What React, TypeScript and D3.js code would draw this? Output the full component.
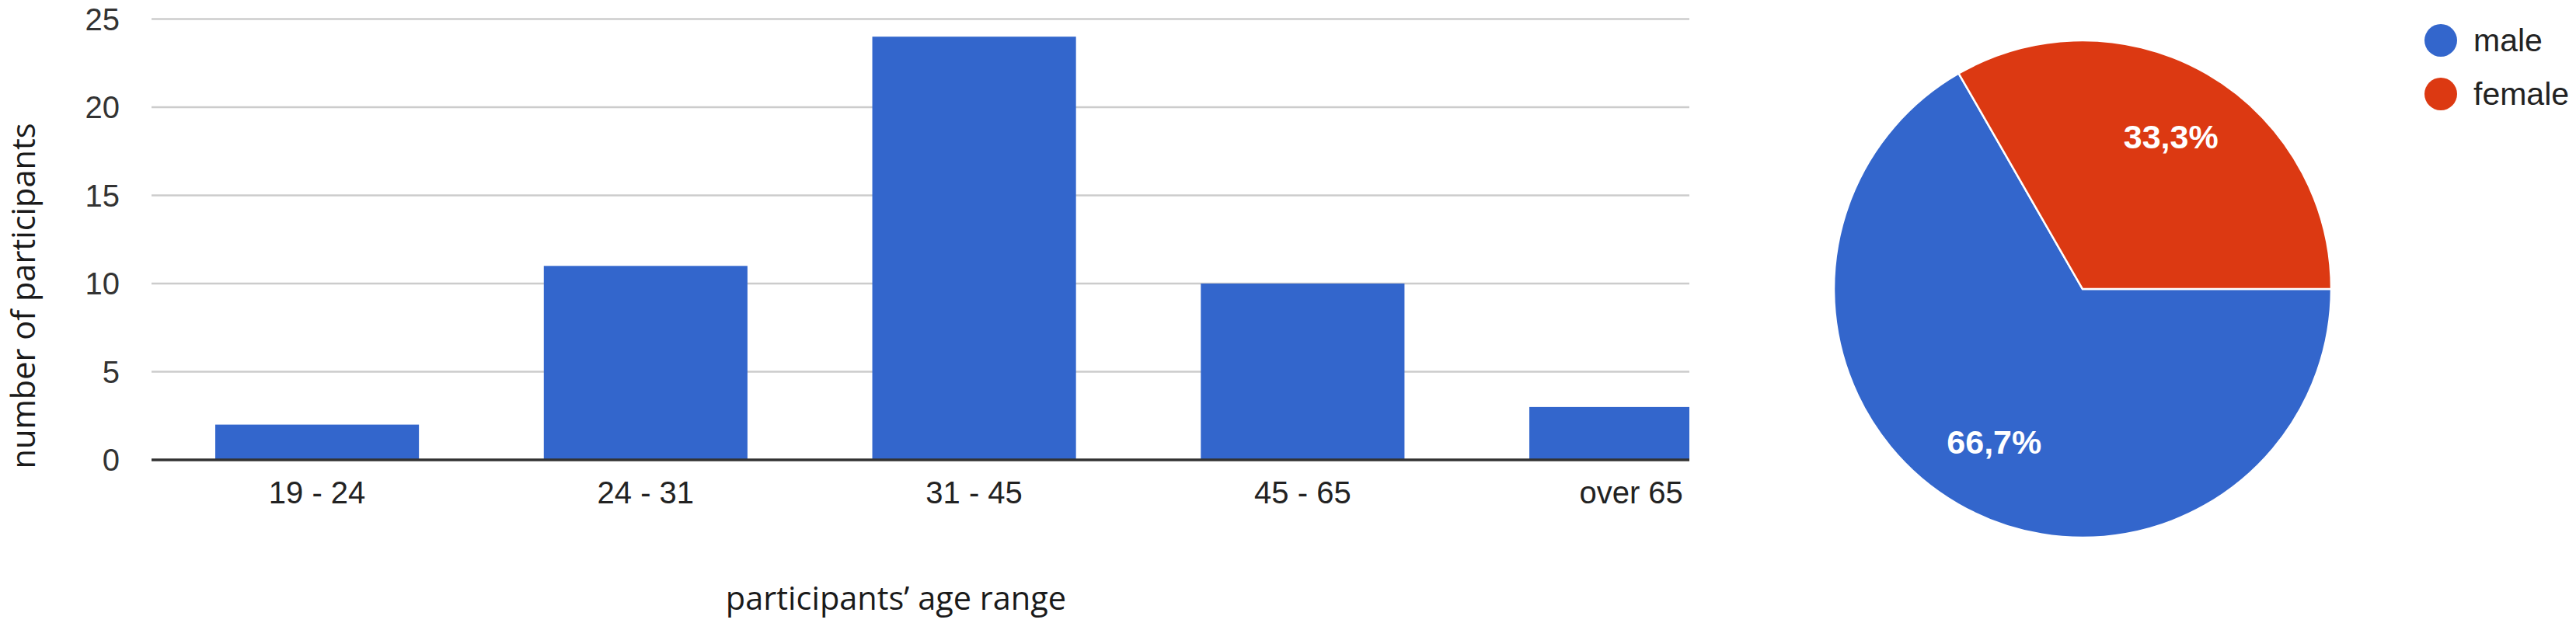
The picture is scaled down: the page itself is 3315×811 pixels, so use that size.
import React from 'react';
import { scaleBand, scaleLinear, pie, arc } from 'd3';

const ageRanges = ['19 - 24', '24 - 31', '31 - 45', '45 - 65', 'over 65'];
const participants = [2, 11, 24, 10, 3];
const yTicks = [0, 5, 10, 15, 20, 25];

const genders = ['male', 'female'];
const genderShares = [66.7, 33.3];
const genderLabels = ['66,7%', '33,3%'];
const genderColors = ['#3366cc', '#dc3912'];

const width = 3315;
const height = 811;

// bar chart area (right side is cut off, like the original screenshot)
const plotLeft = 195;
const plotRight = 2174;

const xScale = scaleBand()
    .domain(ageRanges)
    .range([196.7, 2310.5])
    .paddingInner(0.38)
    .paddingOuter(0.19);

const yScale = scaleLinear().domain([0, 25]).range([592, 24.5]);

const pieCx = 2680;
const pieCy = 372;
const pieR = 320;

const pieGen = pie().sort(null).startAngle(Math.PI / 2).endAngle(Math.PI / 2 + 2 * Math.PI);
const pieArc = arc().innerRadius(0).outerRadius(pieR);
const labelArc = arc().innerRadius(227).outerRadius(227);

const sans = 'Liberation Sans, Arial, sans-serif';

const App = () => {
    const slices = pieGen(genderShares);

    return (
        <svg width={width} height={height} style={{ position: 'absolute', left: 0, top: 0, background: '#fff' }}>
            <defs>
                <clipPath id="plotClip">
                    <rect x={plotLeft} y={0} width={plotRight - plotLeft} height={height} />
                </clipPath>
            </defs>

            {/* gridlines + y tick labels */}
            {yTicks.map(t => (
                <g key={t}>
                    {t !== 0 && (
                        <line x1={plotLeft} x2={plotRight} y1={yScale(t)} y2={yScale(t)} stroke="#cccccc" strokeWidth={2.5} />
                    )}
                    <text x={154} y={yScale(t)} dy="0.36em" textAnchor="end"
                        fontFamily={sans} fontSize={40} fill="#333">
                        {t}
                    </text>
                </g>
            ))}

            {/* bars */}
            <g clipPath="url(#plotClip)">
                {participants.map((v, i) => (
                    <rect key={i}
                        x={xScale(ageRanges[i])}
                        y={yScale(v)}
                        width={xScale.bandwidth()}
                        height={yScale(0) - yScale(v)}
                        fill="#3366cc" />
                ))}
            </g>

            {/* baseline */}
            <line x1={plotLeft} x2={plotRight} y1={yScale(0)} y2={yScale(0)} stroke="#333" strokeWidth={3.5} />

            {/* x tick labels */}
            {ageRanges.map(a => (
                <text key={a} x={xScale(a) + xScale.bandwidth() / 2} y={648} textAnchor="middle"
                    fontFamily={sans} fontSize={40} fill="#222">
                    {a}
                </text>
            ))}

            {/* axis titles */}
            <text transform={`translate(45, 381) rotate(-90)`} textAnchor="middle"
                fontFamily="Open Sans, sans-serif" fontSize={41.5} fill="#1a1a1a">
                number of participants
            </text>
            <text x={1153} y={785} textAnchor="middle"
                fontFamily="Open Sans, sans-serif" fontSize={41.5} fill="#1a1a1a">
                participants’ age range
            </text>

            {/* pie */}
            <g transform={`translate(${pieCx}, ${pieCy})`}>
                {slices.map((d, i) => (
                    <path key={i} d={pieArc(d)} fill={genderColors[i]} stroke="#fff" strokeWidth={2.5} />
                ))}
                {slices.map((d, i) => {
                    const [lx, ly] = labelArc.centroid(d);
                    return (
                        <text key={i} x={lx} y={ly} dy="0.36em" textAnchor="middle"
                            fontFamily={sans} fontWeight="bold" fontSize={43} fill="#fff">
                            {genderLabels[i]}
                        </text>
                    );
                })}
            </g>

            {/* legend */}
            {genders.map((g, i) => (
                <g key={g} transform={`translate(3141, ${52 + i * 69})`}>
                    <circle r={21} fill={genderColors[i]} />
                    <text x={42} y={14} fontFamily={sans} fontSize={41} fill="#222">
                        {g}
                    </text>
                </g>
            ))}
        </svg>
    );
};

export default App;
